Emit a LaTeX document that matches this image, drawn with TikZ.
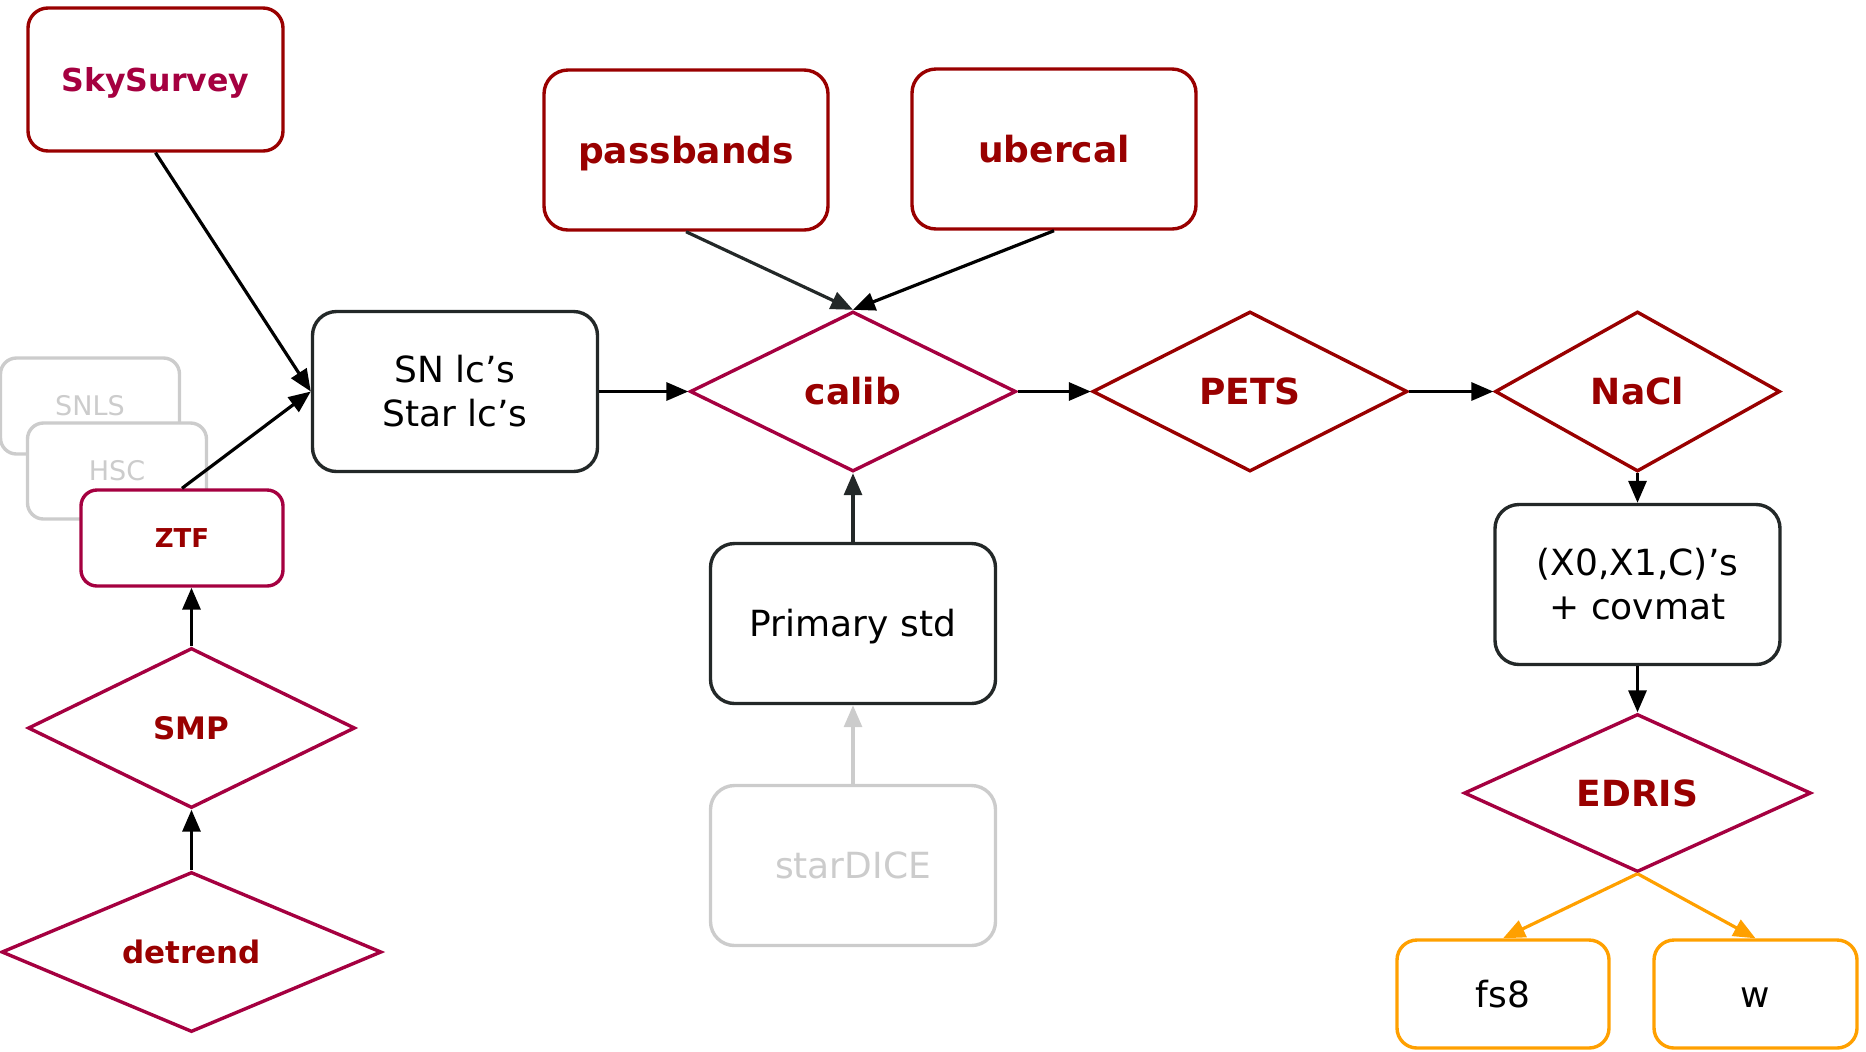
\documentclass[tikz,border=0pt]{standalone}
\usepackage{fontspec}
\setmainfont{DejaVu Sans}
\usetikzlibrary{shapes.geometric,arrows.meta}

\definecolor{crimson}{HTML}{A50040}
\definecolor{darkred}{HTML}{990000}
\definecolor{ink}{HTML}{232828}
\definecolor{ghost}{HTML}{CCCCCC}
\definecolor{amber}{HTML}{FFA000}

\begin{document}
\begin{tikzpicture}[x=.5pt, y=-.5pt,
  font=\fontsize{18}{22}\selectfont,
  >={Triangle[length=11pt,width=9pt]},
  every node/.style={inner sep=0pt, align=center, line width=1.7pt},
  capmid/.style={text height=#1, text depth=0pt},
  capmid/.default=13.1pt,
  box/.style={draw=ink, fill=white, rounded corners=12pt,
    minimum width=142.5pt, minimum height=80pt},
  redbox/.style={box, capmid, draw=darkred, text=darkred,
    font=\fontsize{18}{22}\selectfont\bfseries},
  survey/.style={box, rounded corners=8pt, minimum width=89.5pt,
    minimum height=48pt},
  greybox/.style={draw=ghost, text=ghost},
  outbox/.style={box, capmid, draw=amber, rounded corners=10pt, minimum height=54pt},
  cond/.style={diamond, shape aspect=2, draw=crimson, fill=white,
    text=darkred, minimum height=80pt, capmid,
    font=\fontsize{18}{22}\selectfont\bfseries},
  link/.style={->, line width=1.6pt, draw=black},
]

\useasboundingbox (0,0) rectangle (1866,1051);

% surveys feeding the light curves
\node[survey, greybox, capmid=9.8pt, font=\fontsize{13.5}{16}\selectfont] (snls) at (90,406) {SNLS};
\node[survey, greybox, capmid=9.8pt, font=\fontsize{13.5}{16}\selectfont] (hsc) at (117,471) {HSC};
\node[survey, draw=crimson, text=darkred, minimum width=101pt, capmid=9.5pt,
  font=\fontsize{13}{16}\selectfont\bfseries] (ztf) at (182,538) {ZTF};

\node[redbox, draw=darkred, text=crimson, rounded corners=10pt,
  minimum width=127.5pt, minimum height=71.5pt, capmid=11.5pt,
  font=\fontsize{15.8}{19}\selectfont\bfseries] (sky) at (155.5,79.5) {SkySurvey};

\node[cond, minimum width=163.5pt, capmid=11.3pt, font=\fontsize{15.5}{19}\selectfont\bfseries] (smp) at (191.5,728) {SMP};
\node[cond, minimum width=190pt, capmid=11.3pt, font=\fontsize{15.5}{19}\selectfont\bfseries] (detrend) at (191.5,952) {detrend};

\node[box] (sn) at (455,391.5) {SN lc’s\\Star lc’s};

% calibration inputs
\node[redbox, minimum width=142pt] (pass) at (686,150) {passbands};
\node[redbox, minimum width=142pt] (uber) at (1054,149) {ubercal};
\node[cond, minimum width=163pt] (calib) at (853,391.5) {calib};
\node[box, capmid] (prim) at (853,623.5) {Primary std};
\node[box, greybox, capmid] (stardice) at (853,865.5) {starDICE};

% training and cosmology
\node[cond, draw=darkred, minimum width=157.5pt] (pets) at (1250,391.5) {PETS};
\node[cond, draw=darkred, minimum width=142.5pt] (nacl) at (1637.5,391.5) {NaCl};
\node[box] (params) at (1637.5,584.5) {(X0,X1,C)’s\\+ covmat};
\node[cond, minimum width=173.5pt, minimum height=79pt] (edris) at (1637.5,793) {EDRIS};
\node[outbox, minimum width=106pt] (fs8) at (1503,994) {fs8};
\node[outbox, minimum width=101.5pt] (w) at (1755.5,994) {w};

\draw[link] (sky.south) -- (sn.west);
\draw[link] (ztf.north) -- (sn.west);
\draw[link] (smp.north) -- (smp.north |- ztf.south);
\draw[link] (detrend.north) -- (smp.south);

\draw[link] (sn.east) -- (calib.west);
\draw[link, draw=ink] (pass.south) -- (calib.north);
\draw[link] (uber.south) -- (calib.north);
\draw[link, draw=ink] (prim.north) -- (calib.south);
\draw[link, draw=ghost] (stardice.north) -- (prim.south);

\draw[link] (calib.east) -- (pets.west);
\draw[link] (pets.east) -- (nacl.west);
\draw[link] (nacl.south) -- (params.north);
\draw[link] (params.south) -- (edris.north);
\draw[link, draw=amber] (edris.south) -- (fs8.north);
\draw[link, draw=amber] (edris.south) -- (w.north);
\end{tikzpicture}
\end{document}
